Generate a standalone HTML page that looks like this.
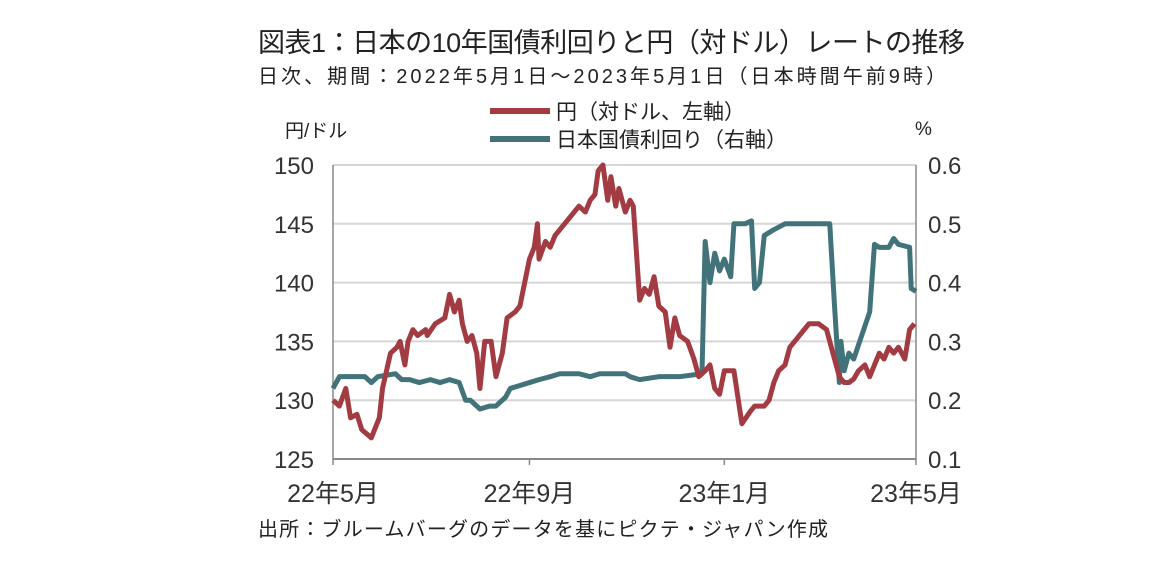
<!DOCTYPE html>
<html><head><meta charset="utf-8"><style>
body{margin:0;background:#fff;}
svg{display:block;font-family:"Liberation Sans","Noto Sans CJK JP",sans-serif;}
</style></head><body>
<svg id="chart" width="1152" height="580" viewBox="0 0 1152 580">
<text x="258" y="52" font-size="27" fill="#222" textLength="707">図表1：日本の10年国債利回りと円（対ドル）レートの推移</text>
<text x="258" y="83" font-size="20" fill="#222" textLength="688">日次、期間：2022年5月1日～2023年5月1日（日本時間午前9時）</text>
<g>
<line x1="490" y1="111" x2="550" y2="111" stroke="#a33c42" stroke-width="6"/>
<text x="556" y="119" font-size="21" fill="#222">円（対ドル、左軸）</text>
<line x1="490" y1="139" x2="550" y2="139" stroke="#43737a" stroke-width="6"/>
<text x="556" y="147" font-size="21" fill="#222">日本国債利回り（右軸）</text>
</g>
<text x="285" y="137" font-size="19" fill="#222">円/ドル</text>
<text x="915" y="135" font-size="19" fill="#222">%</text>
<g id="grid"></g><g id="axes"></g><g id="series"></g>
<text x="258" y="536" font-size="20" fill="#222" textLength="570">出所：ブルームバーグのデータを基にピクテ・ジャパン作成</text>
</svg>
<script>
const leftTicks=[125,130,135,140,145,150];
const rightTicks=[0.1,0.2,0.3,0.4,0.5,0.6];
const xTickLabels=["22年5月","22年9月","23年1月","23年5月"];
const xTickDays=[0,123,245,365];
const yenDays=[0,4,8,11,15,18,24,29,31,36,40,42,45,47,50,53,58,59,64,70,73,76,79,81,84,87,90,92,95,99,102,106,109,114,117,120,123,126,128,129,133,136,139,142,145,151,154,158,161,164,166,169,172,174,177,179,183,186,188,192,195,198,201,204,208,211,214,217,222,226,229,233,236,239,242,245,249,251,256,261,264,270,273,276,279,283,286,289,292,295,298,304,309,313,317,320,323,326,329,333,336,339,342,345,348,351,354,358,361,364];
const yenValues=[130,129.5,131,128.5,128.8,127.5,126.8,128.5,131,134,134.5,135,133,135,136,135.5,136,135.5,136.5,137,139,137.5,138.5,136.5,135,135.5,134,131,135,135,132,134,137,137.5,138,140,142,143,145,142,143.5,143,144,144.5,145,146,146.5,146,147,147.5,149.5,150,147,149,146.5,148,146,147,146.5,138.5,139.5,139,140.5,138,137.5,134.5,137,135.5,135,133.5,132,132.5,133,131,130.5,132.5,132.5,132.5,128,129,129.5,129.5,130,131.5,132.5,133,134.5,135,135.5,136,136.5,136.5,136,134,132,131.5,131.5,131.8,132.5,133,132,133,134,133.5,134.5,134,134.5,133.5,136,136.5];
const jgbDays=[0,4,11,20,24,28,39,43,48,54,61,67,73,79,83,86,92,98,102,108,111,117,123,129,136,142,148,154,161,167,173,183,186,192,204,217,231,233,236,239,242,245,249,251,258,262,264,267,270,276,283,292,311,314,317,318,320,323,326,336,339,342,348,351,354,361,362,365];
const jgbValues=[0.22,0.24,0.24,0.24,0.23,0.24,0.245,0.235,0.235,0.23,0.235,0.23,0.235,0.23,0.2,0.2,0.185,0.19,0.19,0.205,0.22,0.225,0.23,0.235,0.24,0.245,0.245,0.245,0.24,0.245,0.245,0.245,0.24,0.235,0.24,0.24,0.245,0.47,0.4,0.45,0.42,0.44,0.41,0.5,0.5,0.505,0.39,0.4,0.48,0.49,0.5,0.5,0.5,0.36,0.23,0.3,0.25,0.28,0.27,0.35,0.465,0.46,0.46,0.475,0.465,0.46,0.39,0.385];
const X0=333,X1=916,Y0=459,Y1=165,NS="http://www.w3.org/2000/svg";
const xs=d=>X0+d/365*(X1-X0);
const yl=v=>Y0-(v-125)/25*(Y0-Y1);
const yr=v=>Y0-(v-0.1)/0.5*(Y0-Y1);
function mk(tag,attrs,parent){const e=document.createElementNS(NS,tag);for(const k in attrs)e.setAttribute(k,attrs[k]);parent.appendChild(e);return e;}
const grid=document.getElementById('grid'),axes=document.getElementById('axes'),series=document.getElementById('series');
leftTicks.forEach((t,i)=>{
 const y=yl(t);
 if(i>0){const g=mk('line',{x1:X0,x2:X1,y1:y,y2:y,stroke:'#d6d6d6','stroke-width':2},grid);
 
 }
 const tx=mk('text',{x:314,y:y+9,'font-size':24,fill:'#333','text-anchor':'end'},axes);tx.textContent=t;
 
 
});
rightTicks.forEach(t=>{
 const y=yr(t);
 const tx=mk('text',{x:928,y:y+9,'font-size':24,fill:'#333'},axes);tx.textContent=t.toFixed(1);
 
 
});
const la=mk('line',{x1:X0,x2:X0,y1:Y1,y2:Y0,stroke:'#888','stroke-width':1.5},axes);


const ra=mk('line',{x1:X1,x2:X1,y1:Y1,y2:Y0,stroke:'#888','stroke-width':1.5},axes);


const xa=mk('line',{x1:X0,x2:X1,y1:Y0,y2:Y0,stroke:'#888','stroke-width':2},axes);


xTickLabels.forEach((l,i)=>{
 const x=xs(xTickDays[i]);
 const tk=mk('line',{x1:x,x2:x,y1:Y0,y2:Y0+6,stroke:'#888','stroke-width':1.5},axes);
 
 
 const tx=mk('text',{x:x,y:502,'font-size':25,fill:'#333','text-anchor':'middle'},axes);tx.textContent=l;
 
 
});
const pj=mk('polyline',{points:jgbDays.map((d,i)=>xs(d)+','+yr(jgbValues[i])).join(' '),fill:'none',stroke:'#43737a','stroke-width':5,'stroke-linejoin':'round'},series);


const py=mk('polyline',{points:yenDays.map((d,i)=>xs(d)+','+yl(yenValues[i])).join(' '),fill:'none',stroke:'#a33c42','stroke-width':5,'stroke-linejoin':'round'},series);


</script>
</body></html>
